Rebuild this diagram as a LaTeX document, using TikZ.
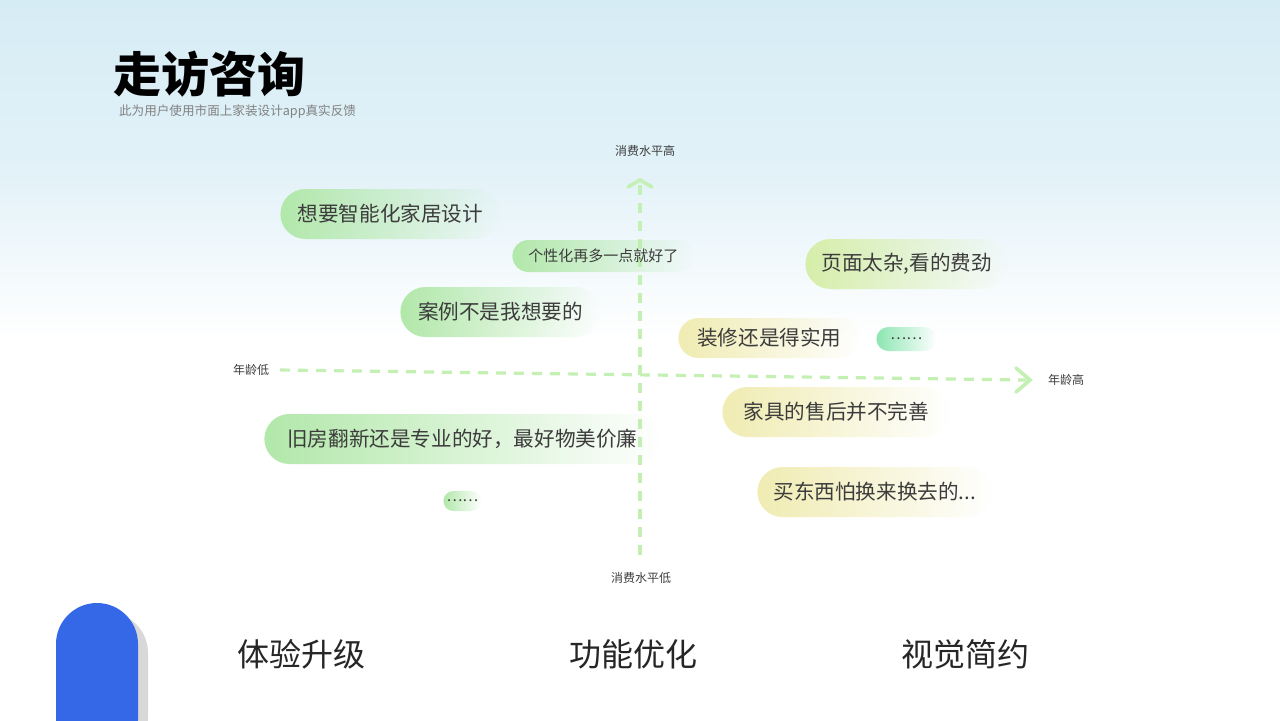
\documentclass[tikz,border=0pt]{standalone}
\usepackage{fontspec}
\setmainfont{Noto Sans CJK SC}
\usetikzlibrary{fadings, shadows}

\definecolor{skyblue}{RGB}{214,236,245}
\definecolor{leafgreen}{RGB}{178,232,170}
\definecolor{limegreen}{RGB}{214,238,170}
\definecolor{strawyellow}{RGB}{240,236,178}
\definecolor{mintgreen}{RGB}{140,230,178}
\definecolor{axisgreen}{RGB}{196,240,180}
\definecolor{pillblue}{RGB}{53,104,230}
\definecolor{textgray}{RGB}{60,60,60}

\tikzset{
  bubble/.style={anchor=west, rounded corners=12.5pt, path fading=east,
    minimum height=25pt, inner xsep=8pt, align=left, text=textgray, font=\fontsize{10.3}{12}\selectfont},
  small bubble/.style={bubble, rounded corners=8pt, minimum height=16pt, font=\fontsize{7.5}{9}\selectfont},
  axis label/.style={text=textgray, font=\fontsize{6}{7}\selectfont},
  axis line/.style={axisgreen, line width=1.6pt, dash pattern=on 5pt off 4pt},
  chevron/.style={axisgreen, line width=1.8pt, line cap=round},
  heading/.style={font=\fontsize{16}{18}\selectfont, text=black!85}
}

\begin{document}
\begin{tikzpicture}[x=0.5pt, y=-0.5pt]
  \useasboundingbox (0,0) rectangle (1280,720);
  % background
  \fill[white] (0,0) rectangle (1280,720);
  \fill[top color=skyblue, bottom color=white, middle color=skyblue!70] (0,0) rectangle (1280,340);

  % title
  \node[anchor=west, font=\bfseries\fontsize{24}{28}\selectfont] (title) at (106,74) {走访咨询};
  \node[anchor=west, text=gray, font=\fontsize{6.3}{8}\selectfont] (subtitle) at (112,112) {此为用户使用市面上家装设计app真实反馈};

  % axes
  \coordinate (ytop) at (640,180);
  \coordinate (ybot) at (640,555);
  \coordinate (xleft) at (280,370);
  \coordinate (xright) at (1026,380);
  \draw[axis line] (ybot) -- (ytop);
  \draw[axis line] (xleft) -- (xright);
  \draw[chevron] (628,187) -- (ytop) -- (652,187);
  \draw[chevron] (1016,368) -- (1030,380) -- (1016,392);
  \node[axis label] (ylabelhi) at (645,151) {消费水平高};
  \node[axis label] (ylabello) at (641,578) {消费水平低};
  \node[axis label] (xlabello) at (251,370) {年龄低};
  \node[axis label] (xlabelhi) at (1066,380) {年龄高};

  % bubbles
  \node[bubble, fill=leafgreen, minimum width=110pt] (b1) at (280,214) {想要智能化家居设计};
  \node[small bubble, fill=leafgreen, minimum width=89pt] (b2) at (512,256) {个性化再多一点就好了};
  \node[bubble, fill=limegreen, minimum width=98pt] (b3) at (805,264) {页面太杂,看的费劲};
  \node[bubble, fill=leafgreen, minimum width=100pt] (b4) at (400,312) {案例不是我想要的};
  \node[bubble, fill=strawyellow, minimum width=91pt, minimum height=20pt, rounded corners=10pt] (b5) at (678,338) {装修还是得实用};
  \node[small bubble, fill=mintgreen, minimum width=27pt, minimum height=12pt, rounded corners=6pt, inner xsep=7pt] (b6) at (876,339) {……};
  \node[bubble, fill=strawyellow, minimum width=114pt] (b7) at (722,412) {家具的售后并不完善};
  \node[bubble, fill=leafgreen, minimum width=198pt] (b8) at (264,439) {旧房翻新还是专业的好，最好物美价廉};
  \node[small bubble, fill=leafgreen, minimum width=19pt, minimum height=10pt, rounded corners=5pt, inner xsep=1pt] (b9) at (443,501) {……};
  \node[bubble, fill=strawyellow, minimum width=117pt] (b10) at (757,492) {买东西怕换来换去的...};

  % bottom
  \fill[black!25, rounded corners=20.5pt, opacity=0.6] (64,760) -- (64,612) -- (148,612) -- (148,760) -- cycle;
  \fill[pillblue, rounded corners=20.5pt] (56,760) -- (56,603) -- (138,603) -- (138,760) -- cycle;
  \node[heading] (h1) at (301,654) {体验升级};
  \node[heading] (h2) at (633,654) {功能优化};
  \node[heading] (h3) at (965,654) {视觉简约};
\end{tikzpicture}
\end{document}
